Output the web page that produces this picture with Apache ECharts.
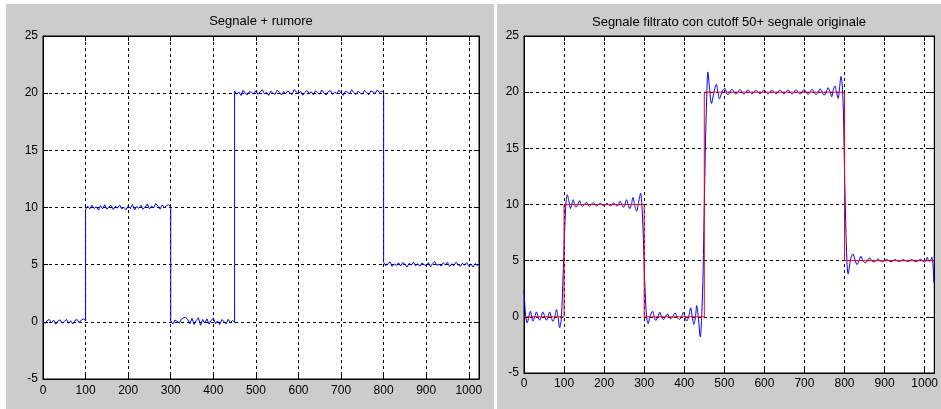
<!DOCTYPE html>
<html>
<head>
<meta charset="utf-8">
<script src="https://cdn.jsdelivr.net/npm/echarts@6/dist/echarts.min.js"></script>
<style>
html,body{margin:0;padding:0;background:#fff;}
#wrap{position:relative;width:941px;height:409px;overflow:hidden;background:#fff;}
.panel{position:absolute;background:#cccccc;}
#chart{position:absolute;left:0;top:0;width:941px;height:409px;}
</style>
</head>
<body>
<div id="wrap">
  <div class="panel" style="left:6px;top:4px;width:488px;height:405px;"></div>
  <div class="panel" style="left:497px;top:4px;width:444px;height:405px;"></div>
  <div id="chart"></div>
</div>
<script>
// ---------- DATA ----------
const titleLeft = 'Segnale + rumore';
const titleRight = 'Segnale filtrato con cutoff 50+ segnale originale';
const xTicks = [0,100,200,300,400,500,600,700,800,900,1000];
const yTicks = [-5,0,5,10,15,20,25];

// noisy signal (left): segments sampled every 5 samples
const noisyStep = 5;
const noisyStarts = [0, 100, 300, 450, 800];
const noisySegA = [0.05,-0.15,0.12,0.2,-0.1,0.15,-0.2,0.06,0.18,-0.12,0.03,0.22,-0.1,0.08,-0.18,0.12,0.2,-0.06,0.16,0.25,0.1];
const noisySegB = [9.82,10.12,9.88,10.2,9.92,10.05,9.78,10.16,9.9,10.24,9.86,10.06,10.18,9.83,10.12,9.95,10.22,9.88,10.02,9.8,10.14,9.9,10.26,9.78,10.08,9.93,10.2,9.85,10.04,10.3,9.88,10.12,9.97,10.35,10.1,9.87,10.22,10.0,10.16,10.24,10.06];
const noisySegC = [0.1,-0.2,0.16,0.04,-0.12,0.24,0.35,0.4,0.18,-0.16,0.3,-0.24,0.12,0.36,-0.3,0.2,-0.1,0.26,-0.2,0.14,0.32,-0.16,0.08,-0.24,0.2,0.04,-0.18,0.22,-0.08,0.12,-0.04];
const noisySegD = [20.2,19.9,20.1,19.8,20.24,20.0,19.86,20.16,20.04,19.92,20.22,19.88,20.12,20.3,19.94,20.06,19.8,20.18,20.0,19.9,
  20.26,20.08,19.84,20.14,19.96,20.2,20.02,19.88,20.32,20.1,19.94,20.16,19.82,20.06,20.24,19.98,20.12,19.86,20.2,20.04,
  19.92,20.28,20.0,19.84,20.14,20.22,19.9,20.08,19.96,20.26,20.02,19.8,20.16,20.1,19.94,20.3,20.04,19.88,20.18,20.0,
  19.92,20.24,20.08,19.86,20.2,20.12,19.96,20.28,20.06,20.16,20.1];
const noisySegE = [5.2,4.9,5.1,5.24,4.84,5.06,4.94,5.16,4.88,5.2,5.04,4.8,5.12,4.96,5.22,4.9,5.08,4.86,5.14,5.0,
  4.92,5.18,4.82,5.1,5.26,4.94,5.04,4.88,5.16,4.98,5.2,4.84,5.08,4.92,5.22,5.0,4.86,5.12,4.96,5.18,4.9,5.06,4.8,5.1,4.94];
const noisyEnd = [1023, 5.0];

// filtered signal (right, blue) as [sample, value]
const filtered = [
 [0,2.4],[2,1.1],[4,0.1],[8,-0.53],[12,0],[16,0.5],[19,0.05],[22,-0.38],[27,0],[31,0.44],[35,0],[39,-0.3],[43,0],[47,0.44],[52,0],[56,-0.3],[60,0],[64,0.44],[68,0],[72,-0.4],[77,0],[81,0.65],[85,0],[89,-0.98],[93,-0.2],[96,2.1],[99,5.2],[102,8.2],[105,10.3],[108,10.87],[112,10.3],[116,9.63],
 [119,10],[123,10.43],[126,10],[130,9.75],[134,10],[139,10.34],[142,10],[146,9.83],[151,10],[156,10.2],[159,10],[163,9.86],[168,10],[173,10.18],[177,10],[181,9.88],[186,10],[190,10.14],[194,10],[198,9.9],[203,10],[207,10.12],[211,10],[215,9.88],[220,10],[224,10.15],[228,10],[232,9.85],[236,10],[240,10.3],[244,10],[248,9.75],[252,10],[256,10.43],[260,10],[264,9.63],[268,10],[272,10.63],[276,10],[281,9.4],[286,10.2],[291,11.0],[295,9.5],[298,6.8],[301,3.4],[304,1.0],[307,-0.3],[310,-0.62],
 [314,0],[321,0.5],[325,0],[329,-0.33],[334,0],[339,0.41],[343,0],[348,-0.24],[353,0],[358,0.27],[362,0],[366,-0.18],[371,0],[377,0.36],[382,0],[388,-0.24],[393,0],[398,0.41],[402,0],[406,-0.38],[411,0],[416,0.8],[420,0],[424,-0.68],[428,0],[431,1.0],[435,0],[440,-1.78],[444,0.5],[447,4],[450,10],[453,15.5],[456,19.5],[459,21.8],[463,20.4],[468,19.0],[474,20],[480,20.7],[484,20],[488,19.4],[494,20],[501,20.35],[505,20],[509,19.76],
 [514,20],[519,20.27],[524,20],[529,19.82],[534,20],[539,20.25],[544,20],[549,19.83],[554,20],[559,20.22],[564,20],[569,19.85],[574,20],[579,20.2],[584,20],[589,19.85],[594,20],[599,20.2],[604,20],[609,19.84],[614,20],[619,20.2],[624,20],[629,19.85],[634,20],[639,20.2],[644,20],[649,19.84],[654,20],[659,20.22],[664,20],[669,19.84],[674,20],[679,20.22],[684,20],[689,19.82],[694,20],[699,20.24],[704,20],[709,19.8],[714,20],[719,20.26],[724,20],[729,19.78],[734,20],[739,20.3],[744,20],[749,19.72],[754,20],[759,20.4],[764,20],[768,19.6],[772,20.2],[776,20.55],[780,20],[784,19.45],[788,20.5],[791,21.4],[794,20.8],[797,18.5],[800,13],[803,8.3],[806,5],[809,3.8],
 [815,5.1],[821,5.6],[826,5.1],[831,4.65],[836,5],[841,5.39],[846,5],[852,4.8],[857,5],[863,5.24],[868,5],[873,4.88],[878,5],[884,5.15],[889,5],[895,4.9],[900,5],[905,5.12],[910,5],[916,4.92],[921,5],[926,5.1],[931,5],[937,4.93],[942,5],[947,5.1],[952,5],[958,4.92],[963,5],[968,5.1],[973,5],[979,4.9],[984,5],[989,5.13],[994,5],[1000,4.88],[1003,5],[1006,5.3],[1010,5],[1013,4.95],[1018,5.3],[1021,4.5],[1023,3.0]
];

// original clean signal (right, red) breakpoints
const originalX = [0,100,100,300,300,450,450,800,800,1023];
const originalY = [0,0,10,10,0,0,20,20,5,5];

// ---------- BUILD ----------
const noisySegs = [noisySegA, noisySegB, noisySegC, noisySegD, noisySegE];
const noisyData = [];
noisySegs.forEach((seg, k) => {
  seg.forEach((v, i) => noisyData.push([noisyStarts[k] + i * noisyStep, v]));
});
noisyData.push(noisyEnd);
const originalData = originalX.map((x, i) => [x, originalY[i]]);

const FONT = "'Liberation Sans', Arial, sans-serif";
const gridLine = {show: true, lineStyle: {color: '#000', type: [3, 3], width: 1}};
const labelStyle = {color: '#000', fontSize: 12, fontFamily: FONT};
const axLine = {show: true, onZero: false, lineStyle: {color: '#000'}};
const axTick = {show: true, inside: true, length: 5, lineStyle: {color: '#000'}};

function xAxes(gridIndex, labelMargin) {
  return [
    {type: 'value', gridIndex, position: 'bottom', min: 0, max: 1024, interval: 100,
     axisLine: axLine, axisTick: axTick,
     axisLabel: Object.assign({show: true, margin: labelMargin, showMaxLabel: false,
       formatter: v => (xTicks.indexOf(v) >= 0 ? String(v) : '')}, labelStyle),
     splitLine: gridLine},
    {type: 'value', gridIndex, position: 'top', min: 0, max: 1024, interval: 100,
     axisLine: axLine, axisTick: axTick,
     axisLabel: {show: false}, splitLine: {show: false}}
  ];
}
function yAxes(gridIndex) {
  return [
    {type: 'value', gridIndex, position: 'left', min: yTicks[0], max: yTicks[yTicks.length - 1], interval: 5,
     axisLine: axLine, axisTick: axTick,
     axisLabel: Object.assign({show: true, margin: 5}, labelStyle),
     splitLine: gridLine},
    {type: 'value', gridIndex, position: 'right', min: yTicks[0], max: yTicks[yTicks.length - 1], interval: 5,
     axisLine: axLine, axisTick: axTick,
     axisLabel: {show: false}, splitLine: {show: false}}
  ];
}

const chart = echarts.init(document.getElementById('chart'), null, {renderer: 'canvas'});
chart.setOption({
  backgroundColor: 'transparent',
  animation: false,
  graphic: [
    {type: 'text', x: 261, y: 21, style: {text: titleLeft, fill: '#000', font: "13px " + FONT, textAlign: 'center', textVerticalAlign: 'middle'}},
    {type: 'text', x: 729, y: 22, style: {text: titleRight, fill: '#000', font: "13px " + FONT, textAlign: 'center', textVerticalAlign: 'middle'}}
  ],
  grid: [
    {left: 43, top: 36, width: 436, height: 343, show: true, backgroundColor: '#fff', borderColor: '#000', borderWidth: 1},
    {left: 524, top: 36, width: 411, height: 337, show: true, backgroundColor: '#fff', borderColor: '#000', borderWidth: 1}
  ],
  xAxis: [...xAxes(0, 6), ...xAxes(1, 5)],
  yAxis: [...yAxes(0), ...yAxes(1)],
  series: [
    {type: 'line', xAxisIndex: 0, yAxisIndex: 0, data: noisyData, showSymbol: false,
     lineStyle: {color: '#0000ff', width: 1}, silent: true},
    {type: 'line', xAxisIndex: 2, yAxisIndex: 2, data: filtered, showSymbol: false, smooth: 0.3,
     lineStyle: {color: '#0000ff', width: 1}, silent: true},
    {type: 'line', xAxisIndex: 2, yAxisIndex: 2, data: originalData, showSymbol: false,
     lineStyle: {color: '#ff0000', width: 1}, silent: true}
  ]
});
</script>
</body>
</html>
